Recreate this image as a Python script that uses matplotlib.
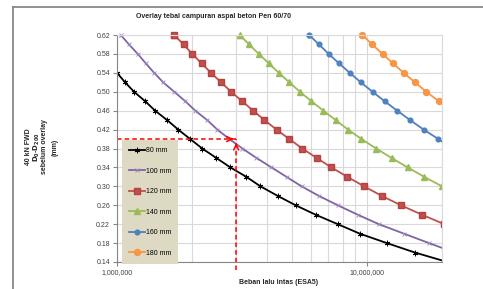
import numpy as np
import matplotlib
matplotlib.use("Agg")
import matplotlib.pyplot as plt
from matplotlib.lines import Line2D
from matplotlib.ticker import FixedLocator, FuncFormatter

plt.rcParams['font.family'] = ['Liberation Sans', 'DejaVu Sans']

# Deflection (mm) at each marker
defl_80 = [0.54, 0.52, 0.50, 0.48, 0.46, 0.44, 0.42, 0.40, 0.38, 0.36, 0.34,
           0.32, 0.30, 0.28, 0.26, 0.24, 0.22, 0.20, 0.18, 0.16, 0.14]
esa_80 = [1.00e6, 1.077e6, 1.17e6, 1.296e6, 1.421e6, 1.588e6, 1.758e6, 1.964e6,
          2.194e6, 2.498e6, 2.844e6, 3.297e6, 3.753e6, 4.391e6, 5.187e6, 6.24e6,
          7.65e6, 9.37e6, 1.203e7, 1.559e7, 2.1e7]

defl_100 = [0.62, 0.60, 0.58, 0.56, 0.54, 0.52, 0.50, 0.48, 0.46, 0.44, 0.42,
            0.40, 0.38, 0.36, 0.34, 0.32, 0.30, 0.28, 0.26, 0.24, 0.22, 0.20,
            0.18, 0.16]
esa_100 = [1.035e6, 1.117e6, 1.211e6, 1.304e6, 1.408e6, 1.53e6, 1.694e6,
           1.876e6, 2.058e6, 2.298e6, 2.521e6, 2.818e6, 3.177e6, 3.616e6,
           4.154e6, 4.772e6, 5.48e6, 6.418e6, 7.65e6, 9.2e6, 1.117e7, 1.408e7,
           1.774e7, 2.25e7]

defl_120 = [0.62, 0.60, 0.58, 0.56, 0.54, 0.52, 0.50, 0.48, 0.46, 0.44, 0.42,
            0.40, 0.38, 0.36, 0.34, 0.32, 0.30, 0.28, 0.26, 0.24, 0.22]
esa_120 = [1.694e6, 1.846e6, 2.001e6, 2.181e6, 2.378e6, 2.609e6, 2.862e6,
           3.168e6, 3.508e6, 3.894e6, 4.351e6, 4.893e6, 5.518e6, 6.298e6,
           7.215e6, 8.366e6, 9.754e6, 1.146e7, 1.369e7, 1.663e7, 2.04e7]

defl_140 = [0.62, 0.60, 0.58, 0.56, 0.54, 0.52, 0.50, 0.48, 0.46, 0.44, 0.42,
            0.40, 0.38, 0.36, 0.34, 0.32, 0.30]
esa_140 = [3.098e6, 3.381e6, 3.694e6, 4.053e6, 4.444e6, 4.893e6, 5.397e6,
           5.998e6, 6.701e6, 7.508e6, 8.413e6, 9.522e6, 1.09e7, 1.257e7,
           1.457e7, 1.699e7, 2.0e7]

defl_160 = [0.62, 0.60, 0.58, 0.56, 0.54, 0.52, 0.50, 0.48, 0.46, 0.44, 0.42,
            0.40, 0.38]
esa_160 = [5.877e6, 6.435e6, 7.038e6, 7.741e6, 8.545e6, 9.46e6, 1.054e7,
           1.178e7, 1.323e7, 1.492e7, 1.689e7, 1.934e7, 2.2e7]

defl_180 = [0.62, 0.60, 0.58, 0.56, 0.54, 0.52, 0.50, 0.48, 0.46]
esa_180 = [9.61e6, 1.05e7, 1.157e7, 1.272e7, 1.404e7, 1.559e7, 1.73e7,
           1.941e7, 2.2e7]

labels = ["80 mm", "100 mm", "120 mm", "140 mm", "160 mm", "180 mm"]

# design example (red dashed guide)
design_esa = 3.0e6
design_defl = 0.40

y_ticks = [0.14, 0.18, 0.22, 0.26, 0.30, 0.34, 0.38, 0.42, 0.46, 0.50, 0.54, 0.58, 0.62]

fig = plt.figure(figsize=(4.83, 2.89), dpi=100)
ax = fig.add_axes([117 / 483, 27 / 289, 325 / 483, 227 / 289])

series = [
    (esa_80, defl_80, "#000000", dict(marker=(6, 2, 0), ms=4, mew=0.6)),
    (esa_100, defl_100, "#8064A2", dict(marker="x", ms=3.5, mew=0.6, mec="#9D88BF")),
    (esa_120, defl_120, "#C0504D", dict(marker="s", ms=4.3, mec="#B4423F")),
    (esa_140, defl_140, "#9BBB59", dict(marker="^", ms=4.3)),
    (esa_160, defl_160, "#4F81BD", dict(marker="o", ms=3.4)),
    (esa_180, defl_180, "#F79646", dict(marker="o", ms=4.3)),
]
handles = []
for (x, y, c, m), lab in zip(series, labels):
    h, = ax.plot(x, y, color=c, lw=1.3, label=lab, **m)
    handles.append(h)
    # markers sitting on the top edge are shown whole
    top = [i for i, v in enumerate(y) if v >= 0.615]
    if top:
        ax.plot([x[i] for i in top], [y[i] for i in top], ls="none", color=c,
                clip_on=False, **m)

# red dashed guide lines with arrows
ax.plot([1e6, design_esa], [design_defl, design_defl], color="red", lw=1.1,
        ls=(0, (3, 2)))
ax.plot([design_esa, design_esa], [0.123, design_defl], color="red", lw=1.1,
        ls=(0, (3, 2)), clip_on=False)
ax.annotate("", xy=(design_esa, design_defl), xytext=(design_esa * 0.93, design_defl),
            arrowprops=dict(arrowstyle="->", color="red", lw=1.1, mutation_scale=9))
ax.annotate("", xy=(design_esa, design_defl - 0.003), xytext=(design_esa, design_defl - 0.02),
            arrowprops=dict(arrowstyle="->", color="red", lw=1.1, mutation_scale=9))

ax.set_xscale("log")
ax.set_xlim(1e6, 2e7)
ax.set_ylim(0.14, 0.62)

ax.xaxis.set_major_locator(FixedLocator([1e6, 1e7]))
ax.xaxis.set_major_formatter(FuncFormatter(lambda v, p: f"{v:,.0f}"))
ax.xaxis.set_minor_locator(FixedLocator([k * 1e6 for k in range(2, 10)] + [2e7]))
ax.set_yticks(y_ticks)
ax.yaxis.set_major_formatter(FuncFormatter(lambda v, p: f"{v:.2f}"))

ax.grid(True, which="both", axis="x", color="#D9D9D9", lw=0.8)
ax.grid(True, which="major", axis="y", color="#D9D9D9", lw=0.8)
ax.set_axisbelow(True)

ax.tick_params(axis="both", which="major", labelsize=5, color="#868686",
               length=3, width=0.8, pad=2, labelcolor="#404040")
ax.tick_params(axis="x", which="minor", length=0)
for s in ["top", "right"]:
    ax.spines[s].set_color("#D9D9D9")
for s in ["left", "bottom"]:
    ax.spines[s].set_color("#868686")

leg = ax.legend(handles=handles, loc="upper left", bbox_to_anchor=(0.0145, 0.537),
                fontsize=5, frameon=True, fancybox=False, handlelength=2.4,
                handletextpad=0.1, labelspacing=1.95, borderpad=1.0, borderaxespad=0)
leg.get_frame().set_facecolor("#DDD9C3")
leg.get_frame().set_edgecolor("none")
leg.get_frame().set_alpha(1)

fig.text(213 / 483, 1 - 17 / 289, "Overlay tebal campuran aspal beton Pen 60/70",
         ha="center", va="center", fontsize=5, fontweight="bold", color="#262626")
fig.text(279 / 483, 1 - 282 / 289, "Beban lalu intas (ESA5)",
         ha="center", va="center", fontsize=5, fontweight="bold", color="#262626")

ylab = ["40 kN FWD", r"$\mathbf{D_0}$-$\mathbf{D_{200}}$", "sebelum overlay", "(mm)"]
for xp, t in zip([28, 36.5, 45, 55], ylab):
    fig.text(xp / 483, 1 - 147 / 289, t, rotation=90, ha="center", va="center",
             fontsize=5, fontweight="bold", color="#262626")

# chart frame
fig.add_artist(Line2D([12.5 / 483, 12.5 / 483], [0, 1 - 6.5 / 289], color="#7F7F7F", lw=1.2))
fig.add_artist(Line2D([12.5 / 483, 1], [1 - 6.5 / 289, 1 - 6.5 / 289], color="#7F7F7F", lw=1.2))

fig.savefig("out.png", dpi=100)
